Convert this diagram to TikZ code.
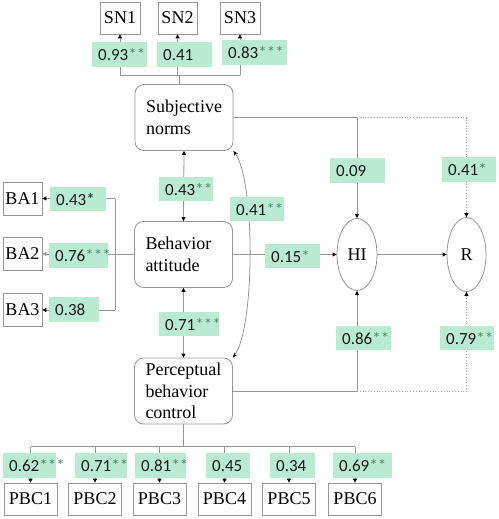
\documentclass[tikz,border=0pt]{standalone}
\usepackage{fontspec}
\setmainfont{Liberation Serif}
\newfontfamily\labfont{Carlito}
\usetikzlibrary{arrows.meta,shapes.geometric}
\definecolor{mint}{RGB}{184,235,210}
\definecolor{lncol}{RGB}{150,150,150}
\definecolor{stcol}{RGB}{85,135,105}
\definecolor{txcol}{RGB}{25,25,25}
\newcommand\stars[1]{{\color{stcol}#1}}
\newcommand\lab[6]{\pgfmathsetmacro\labtw{#4-12}\node[lab,anchor=north west,text width=\labtw pt,minimum height=#5pt] (#1) at (#2,#3) {#6};}
\begin{document}
\begin{tikzpicture}[x=1pt,y=-1pt,
  box/.style={draw=lncol, fill=white, inner sep=0pt, line width=0.8pt, font=\fontsize{18}{21.5}\selectfont},
  item/.style={box, minimum height=32pt},
  big/.style={box, rounded corners=9pt, minimum width=98pt, minimum height=66pt, text width=76pt, align=left},
  ell/.style={box, ellipse},
  lab/.style={fill=mint, inner xsep=6pt, inner ysep=0pt, align=left, font=\labfont\fontsize{17}{19}\selectfont, text=txcol},
  ln/.style={draw=lncol, line width=0.8pt},
  tip/.tip={Triangle[length=4pt,width=4pt,black]},
  arr/.style={ln, -tip},
  darr/.style={ln, tip-tip},
  dotl/.style={draw=lncol!85, dotted, line width=0.8pt}
]
\useasboundingbox (0,0) rectangle (498,519);
% main constructs
\node[big] (sn) at (184,117.5) {Subjective\\norms};
\node[big] (ba) at (183.5,254.5) {Behavior\\attitude};
\node[big] (pbc) at (183.5,391) {Perceptual\\behavior\\control};
\node[ell, minimum width=40pt, minimum height=72pt] (hi) at (357,254.5) {HI};
\node[ell, minimum width=39pt, minimum height=74pt] (r) at (466.5,254.5) {R};
% SN items
\node[item, minimum width=40pt] (sn1) at (120,18) {SN1};
\node[item, minimum width=39pt] (sn2) at (177.5,18) {SN2};
\node[item, minimum width=40pt] (sn3) at (240,18) {SN3};
% BA items
\node[item, minimum width=39pt, minimum height=33pt] (ba1) at (22.5,198.5) {BA1};
\node[item, minimum width=39pt, minimum height=33pt] (ba2) at (22.5,254) {BA2};
\node[item, minimum width=39pt, minimum height=33pt] (ba3) at (22.5,310) {BA3};
% PBC items
\node[item, minimum width=53pt] (p1) at (30.5,499) {PBC1};
\node[item, minimum width=53pt] (p2) at (95,499) {PBC2};
\node[item, minimum width=53pt] (p3) at (159.5,499) {PBC3};
\node[item, minimum width=53pt] (p4) at (224.5,499) {PBC4};
\node[item, minimum width=53pt] (p5) at (289,499) {PBC5};
\node[item, minimum width=53pt] (p6) at (355,499) {PBC6};
% SN bracket
\coordinate (snj) at (179,75);
\draw[ln] (snj) -- (snj |- sn.north);
\draw[ln] (sn1.south |- snj) -- (sn3.south |- snj);
\foreach \n in {sn1,sn2,sn3} \draw[arr] (\n.south |- snj) -- (\n.south);
% BA bracket
\coordinate (bak) at (115,0);
\draw[ln] (ba.west) -- (ba.west -| bak);
\draw[ln] (bak |- ba1.east) -- (bak |- ba3.east);
\draw[arr] (bak |- ba1.east) -- (ba1.east);
\draw[ln, -{Triangle[length=4pt,width=4pt,lncol]}] (bak |- ba2.east) -- (ba2.east);
\draw[arr] (bak |- ba3.east) -- (ba3.east);
% PBC bracket
\coordinate (pj) at (183,446.5);
\draw[ln] (pbc.south) -- (pbc.south |- pj);
\draw[ln] (p1.north |- pj) -- (p6.north |- pj);
\foreach \n in {p1,p2,p3,p4,p5,p6} \draw[arr] (\n.north |- pj) -- (\n.north);
% structural paths
\draw[darr] (sn.south) -- (ba.north);
\draw[darr] (ba.south) -- (pbc.north);
\draw[ln, {Stealth[length=5pt,width=4pt,black]}-{Stealth[length=5pt,width=4pt,black]}] (sn.south east) .. controls +(22,30) and +(22,-30) .. (pbc.north east);
\draw[arr] (sn.east) -| (hi.north);
\draw[dotl, -tip] (sn.east -| hi.north) -| (r.north);
\draw[arr] (ba.east) -- (hi.west);
\draw[arr] (hi.east) -- (r.west);
\draw[arr] (pbc.east) -| (hi.south);
\draw[dotl, -tip] (pbc.east -| hi.south) -| (r.south);
% labels
\lab{l1}{92}{42}{55}{25}{0.93\stars{**}}
\lab{l2}{157}{42}{55}{25}{0.41}
\lab{l3}{222}{40}{65}{25}{0.83\stars{***}}
\lab{l4}{330}{158}{55}{25}{0.09}
\lab{l5}{442}{157}{54}{25}{0.41\stars{*}}
\lab{l6}{159}{177}{54}{24}{0.43\stars{**}}
\lab{l7}{230}{197}{54}{24}{0.41\stars{**}}
\lab{l8}{265}{244}{55}{24}{0.15\stars{*}}
\lab{l9}{159}{312}{60}{24}{0.71\stars{***}}
\lab{l10}{336}{326}{55}{24}{0.86\stars{**}}
\lab{l11}{440}{326}{54}{24}{0.79\stars{**}}
\lab{l12}{50}{187}{56}{24}{0.43*}
\lab{l13}{49}{243}{59}{25}{0.76\stars{***}}
\lab{l14}{49}{297}{50}{25}{0.38}
\lab{l15}{3}{453}{53}{25}{0.62\stars{***}}
\lab{l16}{75}{453}{52}{25}{0.71\stars{**}}
\lab{l17}{135}{453}{51}{25}{0.81\stars{**}}
\lab{l18}{206}{453}{44}{25}{0.45}
\lab{l19}{270}{453}{45}{25}{0.34}
\lab{l20}{333}{453}{59}{25}{0.69\stars{**}}
\end{tikzpicture}
\end{document}
